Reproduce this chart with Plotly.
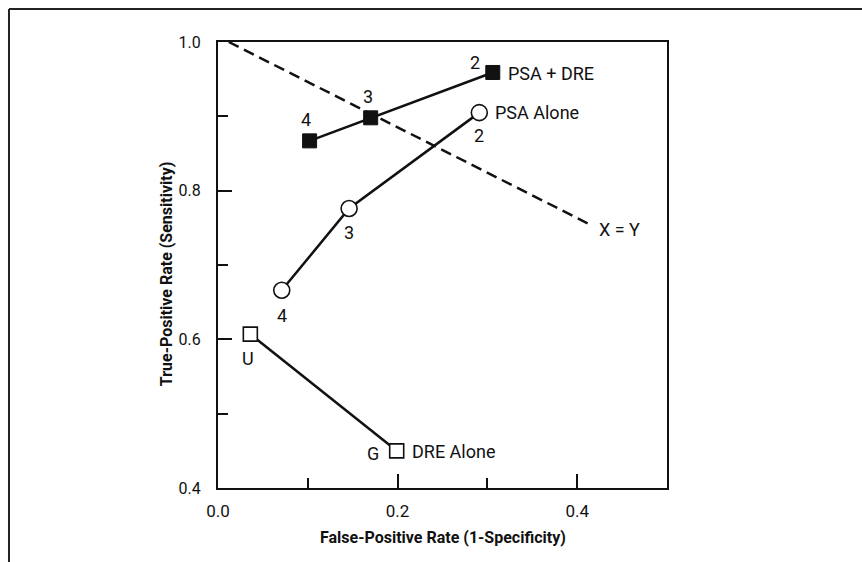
import plotly.graph_objects as go

# ---- data ----
psa_dre_x = [0.102, 0.170, 0.306]
psa_dre_y = [0.867, 0.898, 0.959]
psa_dre_lbl = ["4", "3", "2"]

psa_x = [0.071, 0.146, 0.291]
psa_y = [0.666, 0.776, 0.905]
psa_lbl = ["4", "3", "2"]

dre_x = [0.036, 0.199]
dre_y = [0.607, 0.450]
dre_lbl = ["U", "G"]

xy_x = [0.012, 0.415]
xy_y = [1.000, 0.754]

x_ticks = [0.0, 0.2, 0.4]
y_ticks = [0.4, 0.6, 0.8, 1.0]

FONT = "Roboto, Liberation Sans, sans-serif"
BLACK = "#111111"

fig = go.Figure()

fig.add_trace(go.Scatter(x=xy_x, y=xy_y, mode="lines",
                         line=dict(color=BLACK, width=2.5, dash="11px,6px"),
                         showlegend=False, hoverinfo="skip"))

fig.add_trace(go.Scatter(x=psa_dre_x, y=psa_dre_y, mode="lines+markers",
                         line=dict(color=BLACK, width=2.5),
                         marker=dict(symbol="square", size=14, color=BLACK,
                                     line=dict(color=BLACK, width=1)),
                         showlegend=False))

fig.add_trace(go.Scatter(x=psa_x, y=psa_y, mode="lines+markers",
                         line=dict(color=BLACK, width=2.5),
                         marker=dict(symbol="circle", size=16, color="white",
                                     line=dict(color=BLACK, width=1.6)),
                         showlegend=False))

fig.add_trace(go.Scatter(x=dre_x, y=dre_y, mode="lines+markers",
                         line=dict(color=BLACK, width=2.5),
                         marker=dict(symbol="square", size=14, color="white",
                                     line=dict(color=BLACK, width=1.6)),
                         showlegend=False))

ann = []
lf = dict(family=FONT, size=18, color=BLACK)

# PSA + DRE point numbers
offs_pd = [(-4, 21), (-3, 21), (-18, 10)]
for x, y, t, (dx, dy) in zip(psa_dre_x, psa_dre_y, psa_dre_lbl, offs_pd):
    ann.append(dict(x=x, y=y, text=t, showarrow=False, xshift=dx, yshift=dy, font=lf))
# PSA alone point numbers
offs_p = [(0, -25), (0, -24), (0, -23)]
for x, y, t, (dx, dy) in zip(psa_x, psa_y, psa_lbl, offs_p):
    ann.append(dict(x=x, y=y, text=t, showarrow=False, xshift=dx, yshift=dy, font=lf))
# DRE labels
offs_d = [(-2, -24), (-24, -3)]
for x, y, t, (dx, dy) in zip(dre_x, dre_y, dre_lbl, offs_d):
    ann.append(dict(x=x, y=y, text=t, showarrow=False, xshift=dx, yshift=dy, font=lf))

# series names
ann.append(dict(x=psa_dre_x[-1], y=psa_dre_y[-1], text="PSA + DRE", showarrow=False,
                xanchor="left", xshift=13, yshift=-1, font=lf))
ann.append(dict(x=psa_x[-1], y=psa_y[-1], text="PSA Alone", showarrow=False,
                xanchor="left", xshift=14, yshift=0, font=lf))
ann.append(dict(x=dre_x[-1], y=dre_y[-1], text="DRE Alone", showarrow=False,
                xanchor="left", xshift=13, yshift=-1, font=lf))
ann.append(dict(x=xy_x[-1], y=xy_y[-1], text="X = Y", showarrow=False,
                xanchor="left", xshift=6, yshift=-5, font=lf))

tf = dict(family=FONT, size=16, color=BLACK)
ann.append(dict(xref="paper", yref="paper", x=0.5, y=-0.112, text="<b>False-Positive Rate (1-Specificity)</b>",
                showarrow=False, font=tf, xanchor="center", yanchor="middle"))
ann.append(dict(xref="paper", yref="paper", x=-0.113, y=0.48, text="<b>True-Positive Rate (Sensitivity)</b>",
                showarrow=False, font=tf, textangle=-90, xanchor="center", yanchor="middle"))

fig.update_layout(
    width=862, height=562,
    margin=dict(l=218, r=195, t=42, b=74),
    paper_bgcolor="white", plot_bgcolor="white",
    annotations=ann,
    shapes=[
        dict(type="line", xref="paper", yref="paper", x0=-0.4655, x1=1.45, y0=1.074, y1=1.074,
             line=dict(color="#222222", width=2)),
        dict(type="line", xref="paper", yref="paper", x0=-0.4655, x1=-0.4655, y0=1.074, y1=-0.2,
             line=dict(color="#222222", width=2)),
    ],
)

fig.update_xaxes(range=[0, 0.5], tickvals=x_ticks, ticktext=[f"{v:.1f}" for v in x_ticks],
                 ticks="inside", ticklen=14, tickwidth=2, tickcolor=BLACK, ticklabelstandoff=7,
                 minor=dict(dtick=0.1, tick0=0, ticks="inside", ticklen=10, tickwidth=2, tickcolor=BLACK),
                 showline=True, linecolor=BLACK, linewidth=2, mirror=True,
                 showgrid=False, zeroline=False,
                 tickfont=dict(family=FONT, size=17, color=BLACK))
fig.update_yaxes(range=[0.4, 1.0], tickvals=y_ticks, ticktext=[f"{v:.1f}" for v in y_ticks],
                 ticks="inside", ticklen=14, tickwidth=2, tickcolor=BLACK, ticklabelstandoff=12,
                 minor=dict(dtick=0.1, tick0=0, ticks="inside", ticklen=10, tickwidth=2, tickcolor=BLACK),
                 showline=True, linecolor=BLACK, linewidth=2, mirror=True,
                 showgrid=False, zeroline=False,
                 tickfont=dict(family=FONT, size=16, color=BLACK))

fig.write_html("out.html", config={"displayModeBar": False},
               post_script="document.body.style.margin='0';document.body.style.padding='0';")
